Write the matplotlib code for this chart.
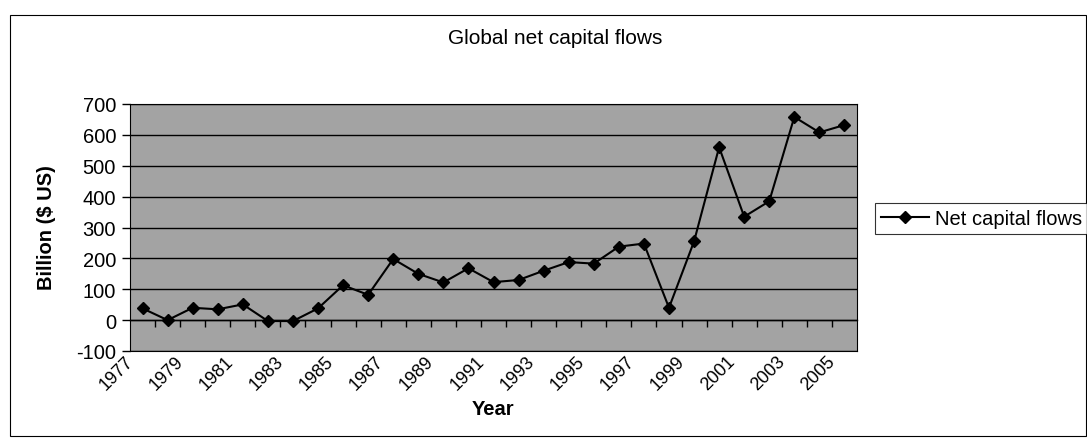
import matplotlib
matplotlib.use("Agg")
import matplotlib.pyplot as plt
import matplotlib.transforms as mtransforms
from matplotlib.patches import Rectangle

plt.rcParams["font.family"] = ["Liberation Sans", "DejaVu Sans"]

# data
years = list(range(1977, 2006))
net_flows = [38, 0, 40, 35, 51, -3, -3, 38, 113, 82, 198, 150, 122, 168, 123,
             130, 160, 188, 183, 238, 248, 40, 255, 560, 335, 385, 658, 608, 632]
y_ticks = [-100, 0, 100, 200, 300, 400, 500, 600, 700]
series_name = "Net capital flows"

W, H = 1087, 439
FS = 14.5
fig = plt.figure(figsize=(W / 100, H / 100), dpi=100)

# outer chart border
fig.patches.append(Rectangle((10 / W, 2 / H), 1076 / W, 421 / H, transform=fig.transFigure,
                             fill=False, edgecolor="black", linewidth=0.8))

ax = fig.add_axes([130 / W, 1 - 352 / H, 727 / W, 247 / H])
ax.set_facecolor("#a3a3a3")

x = list(range(len(years)))
ymin, ymax = -100, 700
ax.plot(x, net_flows, color="black", linewidth=1.5, marker="D", markersize=6,
        markerfacecolor="black", markeredgecolor="black", label=series_name, zorder=3)

ax.set_xlim(-0.5, len(years) - 0.5)
ax.set_ylim(ymin, ymax)
ax.set_yticks(y_ticks)
ax.set_yticklabels([str(v) for v in y_ticks], fontsize=FS)
ax.tick_params(axis="y", direction="out", length=6, width=1, pad=4)
ax.yaxis.grid(True, color="black", linewidth=1)
ax.set_axisbelow(True)
for sp in ax.spines.values():
    sp.set_color("black")
    sp.set_linewidth(0.8)

# category labels every other year along the bottom
ax.set_xticks(x[::2])
ax.set_xticklabels([str(y) for y in years[::2]], rotation=45, ha="right", va="top",
                   fontsize=13)
ax.tick_params(axis="x", length=0, pad=1)
offset = mtransforms.ScaledTranslation(-6 / 100, 0, fig.dpi_scale_trans)
for lbl in ax.get_xticklabels():
    lbl.set_transform(lbl.get_transform() + offset)

# category axis crossing at zero with ticks between categories
zero_pos = (0 - ymin) / (ymax - ymin)
sec = ax.secondary_xaxis(zero_pos)
sec.set_xticks([i - 0.5 for i in range(1, len(years))])
sec.tick_params(axis="x", direction="out", length=5, width=1, labelbottom=False,
                labeltop=False, bottom=True, top=False)
sec.spines["bottom"].set_color("black")
sec.spines["bottom"].set_linewidth(1)

fig.text(555 / W, 1 - 38 / H, "Global net capital flows", ha="center", va="center",
         fontsize=15)
fig.text(47 / W, 1 - 228 / H, "Billion ($ US)", ha="center", va="center",
         rotation=90, fontsize=FS, fontweight="bold")
fig.text(493 / W, 1 - 410 / H, "Year", ha="center", va="center", fontsize=FS,
         fontweight="bold")

leg = fig.legend(loc="upper left", bbox_to_anchor=(875 / W, 1 - 204 / H),
                 fontsize=FS, frameon=True, fancybox=False, borderaxespad=0,
                 handlelength=2.4, handletextpad=0.3, borderpad=0.3)
leg.get_frame().set_edgecolor("black")
leg.get_frame().set_linewidth(0.8)

fig.savefig("out.png", dpi=100)
